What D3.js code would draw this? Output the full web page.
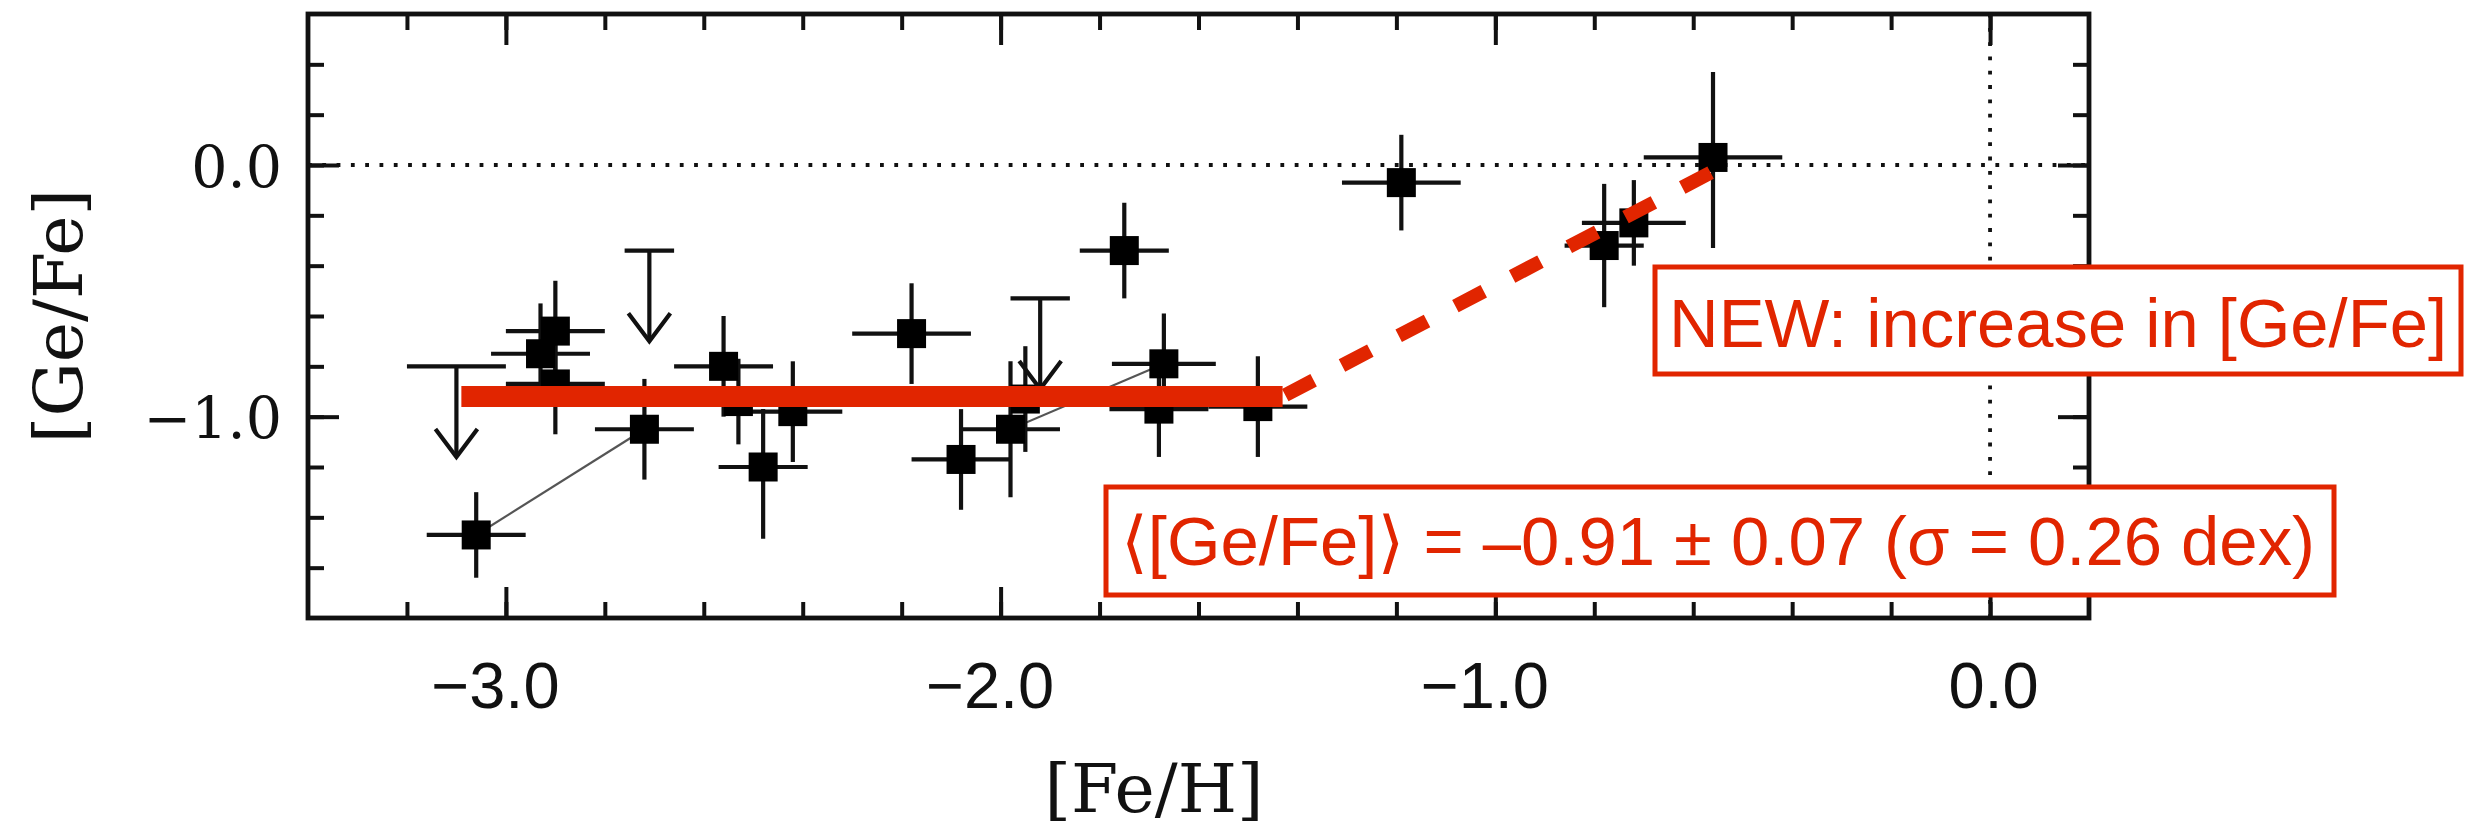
<!DOCTYPE html>
<html>
<head>
<meta charset="utf-8">
<script src="https://cdn.jsdelivr.net/npm/d3@7"></script>
<style>
  html, body { margin: 0; padding: 0; background: #fff; }
  svg { display: block; }
</style>
</head>
<body>
<div id="chart"></div>
<script>
// ---------------- data ----------------
const xDomain = [-3.4, 0.2];
const yDomain = [-1.8, 0.6];

// detections: [Fe/H], [Ge/Fe], errors
const feH        = [-3.06, -2.90, -2.93, -2.90, -2.72, -2.56, -2.53, -2.48, -2.42, -2.18, -2.08, -1.98, -1.95, -1.75, -1.67, -1.68, -1.48, -1.19, -0.78, -0.72, -0.56];
const geFe       = [-1.47, -0.66, -0.75, -0.87, -1.05, -0.80, -0.94, -1.20, -0.98, -0.67, -1.17, -1.05, -0.93, -0.34, -0.79, -0.97, -0.96, -0.07, -0.32, -0.23,  0.03];
const feHErr     = [ 0.10,  0.10,  0.10,  0.10,  0.10,  0.10,  0.10,  0.09,  0.10,  0.12,  0.10,  0.10,  0.05,  0.09,  0.105, 0.10,  0.10,  0.12,  0.08,  0.105, 0.14];
const geFeErrUp  = [ 0.17,  0.20,  0.20,  0.20,  0.20,  0.20,  0.17,  0.23,  0.20,  0.20,  0.20,  0.27,  0.21,  0.19,  0.20,  0.19,  0.20,  0.19,  0.245, 0.17,  0.34];
const geFeErrDn  = [ 0.17,  0.20,  0.20,  0.20,  0.20,  0.20,  0.17,  0.285, 0.20,  0.20,  0.20,  0.27,  0.21,  0.19,  0.20,  0.19,  0.20,  0.19,  0.245, 0.17,  0.36];

// upper limits
const limFeH    = [-3.10, -2.71, -1.92];
const limGeFe   = [-0.80, -0.34, -0.53];
const limFeHErr = [ 0.10,  0.05,  0.06];
const limArrowLen = 0.36;

// thin lines joining pairs of detections (index pairs)
const linkFrom = [0, 11];
const linkTo   = [4, 14];

// mean level (solid) and trend (dashed)
const meanFeH  = [-3.09, -1.43];
const meanGeFe = [-0.92, -0.92];
const trendFeH  = [-1.43, -0.545];
const trendGeFe = [-0.92, -0.01];

// ticks
const xMajorTicks  = [-3, -2, -1, 0];
const xTickLabels  = ["\u22123.0", "\u22122.0", "\u22121.0", "0.0"];
const yMajorTicks  = [0, -1];
const yTickLabels  = ["0.0", "\u22121.0"];

const xTitle = "[Fe/H]";
const yTitle = "[Ge/Fe]";
const noteNew  = "NEW: increase in [Ge/Fe]";
const noteMean = "\u27E8[Ge/Fe]\u27E9 = \u20130.91 \u00B1 0.07 (\u03C3 = 0.26 dex)";

// ---------------- layout ----------------
const W = 2487, H = 833;
const pLeft = 308, pRight = 2089, pTop = 14, pBottom = 618;
const RED = "#e12500";
const INK = "#111";

const svg = d3.select("#chart").append("svg")
  .attr("width", W).attr("height", H)
  .attr("viewBox", `0 0 ${W} ${H}`);

const x = d3.scaleLinear().domain(xDomain).range([pLeft, pRight]);
const y = d3.scaleLinear().domain(yDomain).range([pBottom, pTop]);

// minor tick positions (every 0.2 dex, frame edges excluded)
const xMinor = d3.range(-16, 1).map(i => +(i * 0.2).toFixed(1));
const yMinor = d3.range(-8, 3).map(i => +(i * 0.2).toFixed(1));

// ---------------- reference dotted lines ----------------
svg.append("line")
  .attr("x1", x(xDomain[0])).attr("x2", x(xDomain[1]))
  .attr("y1", y(0)).attr("y2", y(0))
  .attr("stroke", INK).attr("stroke-width", 3.8)
  .attr("stroke-dasharray", "3.8,10.5");
svg.append("line")
  .attr("x1", x(0)).attr("x2", x(0))
  .attr("y1", y(yDomain[0])).attr("y2", y(yDomain[1]))
  .attr("stroke", INK).attr("stroke-width", 3.8)
  .attr("stroke-dasharray", "3.8,10.5");

// ---------------- connecting thin lines ----------------
svg.append("g").selectAll("line").data(d3.range(linkFrom.length)).join("line")
  .attr("x1", i => x(feH[linkFrom[i]])).attr("y1", i => y(geFe[linkFrom[i]]))
  .attr("x2", i => x(feH[linkTo[i]])).attr("y2", i => y(geFe[linkTo[i]]))
  .attr("stroke", "#555").attr("stroke-width", 2.2);

// ---------------- detections ----------------
const idx = d3.range(feH.length);
const gPts = svg.append("g");
gPts.selectAll("line.xe").data(idx).join("line").attr("class", "xe")
  .attr("x1", i => x(feH[i] - feHErr[i])).attr("x2", i => x(feH[i] + feHErr[i]))
  .attr("y1", i => y(geFe[i])).attr("y2", i => y(geFe[i]))
  .attr("stroke", INK).attr("stroke-width", 4.2);
gPts.selectAll("line.ye").data(idx).join("line").attr("class", "ye")
  .attr("x1", i => x(feH[i])).attr("x2", i => x(feH[i]))
  .attr("y1", i => y(geFe[i] + geFeErrUp[i])).attr("y2", i => y(geFe[i] - geFeErrDn[i]))
  .attr("stroke", INK).attr("stroke-width", 4.2);
const ms = 29;
gPts.selectAll("rect").data(idx).join("rect")
  .attr("x", i => x(feH[i]) - ms / 2).attr("y", i => y(geFe[i]) - ms / 2)
  .attr("width", ms).attr("height", ms).attr("fill", "#000");

// ---------------- upper limits ----------------
const gLim = svg.append("g").attr("fill", "none").attr("stroke", INK).attr("stroke-width", 4.2);
limFeH.forEach((fx, i) => {
  const cx = x(fx), cy = y(limGeFe[i]);
  const ty = y(limGeFe[i] - limArrowLen);
  gLim.append("line").attr("x1", x(fx - limFeHErr[i])).attr("x2", x(fx + limFeHErr[i]))
    .attr("y1", cy).attr("y2", cy);
  gLim.append("line").attr("x1", cx).attr("x2", cx).attr("y1", cy).attr("y2", ty);
  gLim.append("path").attr("d", `M${cx - 21},${ty - 28} L${cx},${ty} L${cx + 21},${ty - 28}`);
});

// ---------------- frame & axes ----------------
svg.append("rect")
  .attr("x", pLeft).attr("y", pTop).attr("width", pRight - pLeft).attr("height", pBottom - pTop)
  .attr("fill", "none").attr("stroke", INK).attr("stroke-width", 4.8);

function styleAxis(g) {
  g.select(".domain").remove();
  g.selectAll(".tick line").attr("stroke", INK).attr("stroke-width", 4);
}
const minorLen = 16, majorLen = 31;

// bottom
svg.append("g").attr("transform", `translate(0,${pBottom})`)
  .call(d3.axisBottom(x).tickValues(xMinor).tickSize(-minorLen).tickSizeOuter(0).tickFormat(""))
  .call(styleAxis);
const xLab = svg.append("g").attr("transform", `translate(0,${pBottom})`)
  .call(d3.axisBottom(x).tickValues(xMajorTicks).tickSize(-majorLen).tickSizeOuter(0)
    .tickFormat((d, i) => xTickLabels[i]))
  .call(styleAxis);
xLab.selectAll(".tick text")
  .attr("y", 90).attr("dy", null)
  .attr("dx", (d, i) => xTickLabels[i].startsWith("\u2212") ? -11 : 3)
  .attr("fill", INK)
  .style("font-family", "'Liberation Sans', Arial, sans-serif")
  .style("font-size", "65px");

// top
svg.append("g").attr("transform", `translate(0,${pTop})`)
  .call(d3.axisTop(x).tickValues(xMinor).tickSize(-minorLen).tickSizeOuter(0).tickFormat(""))
  .call(styleAxis);
svg.append("g").attr("transform", `translate(0,${pTop})`)
  .call(d3.axisTop(x).tickValues(xMajorTicks).tickSize(-majorLen).tickSizeOuter(0).tickFormat(""))
  .call(styleAxis);

// left
svg.append("g").attr("transform", `translate(${pLeft},0)`)
  .call(d3.axisLeft(y).tickValues(yMinor).tickSize(-minorLen).tickSizeOuter(0).tickFormat(""))
  .call(styleAxis);
const yLab = svg.append("g").attr("transform", `translate(${pLeft},0)`)
  .call(d3.axisLeft(y).tickValues(yMajorTicks).tickSize(-majorLen).tickSizeOuter(0)
    .tickFormat((d, i) => yTickLabels[i]))
  .call(styleAxis);
yLab.selectAll(".tick text")
  .attr("x", -26).attr("dy", 21)
  .attr("fill", INK)
  .style("font-family", "'DejaVu Serif', serif")
  .style("font-size", "57px");

// right
svg.append("g").attr("transform", `translate(${pRight},0)`)
  .call(d3.axisRight(y).tickValues(yMinor).tickSize(-minorLen).tickSizeOuter(0).tickFormat(""))
  .call(styleAxis);
svg.append("g").attr("transform", `translate(${pRight},0)`)
  .call(d3.axisRight(y).tickValues(yMajorTicks).tickSize(-majorLen).tickSizeOuter(0).tickFormat(""))
  .call(styleAxis);

// axis titles
svg.append("text")
  .attr("x", 1154).attr("y", 812)
  .attr("text-anchor", "middle")
  .attr("fill", INK)
  .style("font-family", "'DejaVu Serif', serif").style("font-size", "68px")
  .text(xTitle);
svg.append("text")
  .attr("transform", "translate(82,316) rotate(-90)")
  .attr("text-anchor", "middle")
  .attr("fill", INK)
  .style("font-family", "'DejaVu Serif', serif").style("font-size", "68px")
  .text(yTitle);

// ---------------- red mean & trend lines ----------------
const lineGen = d3.line().x(d => x(d[0])).y(d => y(d[1]));
svg.append("path")
  .attr("d", lineGen(d3.zip(meanFeH, meanGeFe)))
  .attr("stroke", RED).attr("stroke-width", 21).attr("fill", "none");
svg.append("path")
  .attr("d", lineGen(d3.zip(trendFeH, trendGeFe)))
  .attr("stroke", RED).attr("stroke-width", 14).attr("fill", "none")
  .attr("stroke-dasharray", "32,32").attr("stroke-dashoffset", -3);

// ---------------- annotation boxes ----------------
function noteBox(bx, by, bw, bh, tx, ty, tw, txt) {
  svg.append("rect")
    .attr("x", bx).attr("y", by).attr("width", bw).attr("height", bh)
    .attr("fill", "#fff").attr("stroke", RED).attr("stroke-width", 5);
  svg.append("text")
    .attr("x", tx).attr("y", ty)
    .attr("fill", RED)
    .attr("textLength", tw).attr("lengthAdjust", "spacingAndGlyphs")
    .style("font-family", "'Liberation Sans', Arial, 'DejaVu Sans', sans-serif")
    .style("font-size", "68px")
    .text(txt);
}
noteBox(1655, 267, 806, 107, 1669, 347, 778, noteNew);
noteBox(1106, 487, 1228, 108, 1121, 565, 1194, noteMean);
</script>
</body>
</html>
